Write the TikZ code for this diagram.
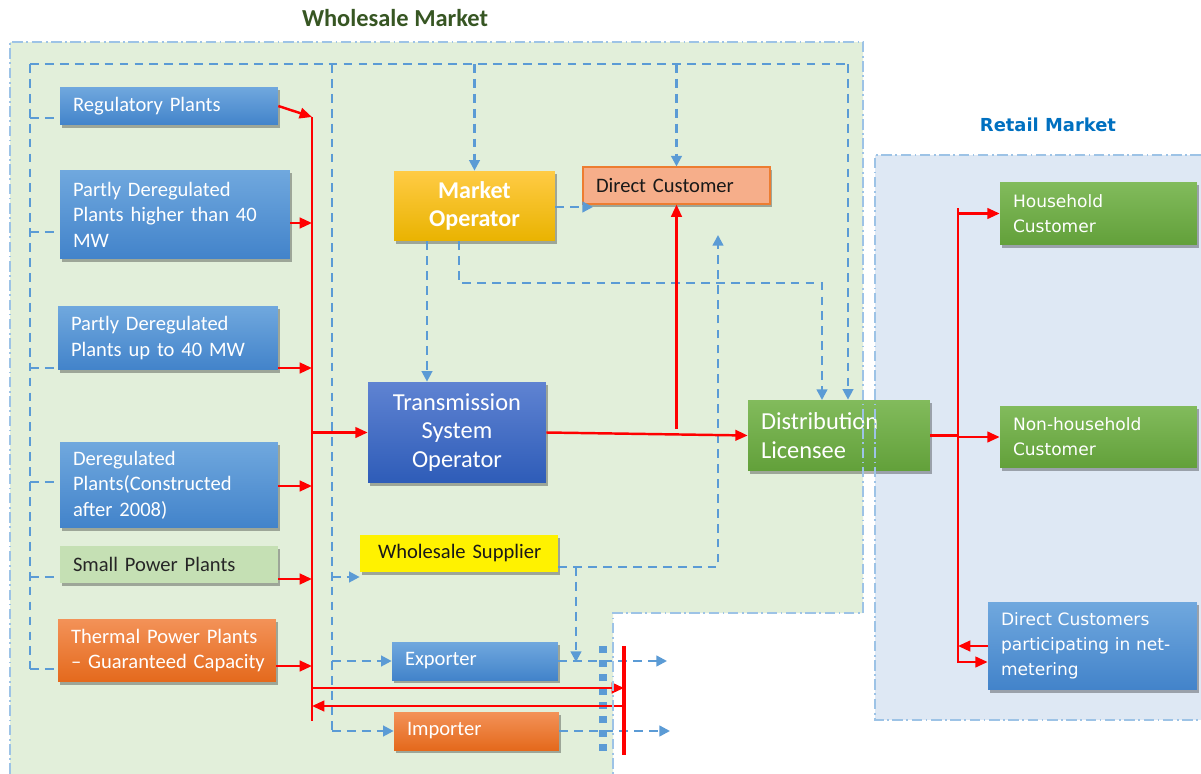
\documentclass[tikz,border=0pt]{standalone}
\usepackage{fontspec}
\setmainfont{Carlito}
\newfontfamily\verd{DejaVu Sans}
\usetikzlibrary{arrows.meta,shadows,calc}
\definecolor{wsfill}{HTML}{E2EFDA}
\definecolor{rtfill}{HTML}{DEE8F4}
\definecolor{bdcol}{HTML}{9DC3E6}
\definecolor{dblue}{HTML}{5B9BD5}
\definecolor{wsgreen}{HTML}{375623}
\definecolor{rtblue}{HTML}{0070C0}
\definecolor{bluT}{HTML}{70A8DE}
\definecolor{bluB}{HTML}{4283CA}
\definecolor{tsoT}{HTML}{5F83D2}
\definecolor{tsoB}{HTML}{2E5CB8}
\definecolor{grnT}{HTML}{82BB5C}
\definecolor{grnB}{HTML}{62A03A}
\definecolor{orgT}{HTML}{F39258}
\definecolor{orgB}{HTML}{E4691C}
\definecolor{moT}{HTML}{FFCB45}
\definecolor{moB}{HTML}{E9B300}
\definecolor{smallc}{HTML}{C5E0B4}
\definecolor{dcfill}{HTML}{F6AE8A}
\definecolor{dcline}{HTML}{ED7D31}
\begin{document}
\begin{tikzpicture}[x=0.02cm,y=-0.02cm,
  base/.style={inner xsep=0.26cm, inner ysep=0pt, align=left, text=white,
    font=\fontsize{11.7}{14.5}\selectfont,
    drop shadow={shadow xshift=1.2pt, shadow yshift=-1.5pt, opacity=0.3, fill=black}},
  blueb/.style={base, top color=bluT, bottom color=bluB},
  orgb/.style={base, top color=orgT, bottom color=orgB},
  grnb/.style={base, top color=grnT, bottom color=grnB},
  retb/.style={grnb, font=\verd\fontsize{9.7}{14.2}\selectfont},
  ra/.style={draw=red, line width=1.4pt, -{Triangle[length=7pt,width=6pt]}},
  rl/.style={draw=red, line width=1.4pt},
  ba/.style={draw=dblue, line width=1.3pt, dash pattern=on 5pt off 3.5pt, -{Triangle[length=6pt,width=6pt]}},
  bl/.style={draw=dblue, line width=1.3pt, dash pattern=on 5pt off 3.5pt},
  bd/.style={draw=bdcol, line width=0.6pt, dash pattern=on 6pt off 2pt on 1pt off 2pt}
]
\useasboundingbox (0,0) rectangle (1201,774);
\fill[white] (0,0) rectangle (1201,774);
% regions
\fill[wsfill] (10,42) -- (863,42) -- (863,613) -- (613,613) -- (613,774) -- (10,774) -- cycle;
\fill[rtfill] (875,155) rectangle (1201,720);
\node[font=\bfseries\fontsize{13.9}{16}\selectfont, text=wsgreen] (wst) at (395,18) {Wholesale Market};
\node[font=\verd\bfseries\fontsize{10.2}{12}\selectfont, text=rtblue] (rtt) at (1048,125) {Retail Market};

% coordinates
\coordinate (tl) at (30,64);
\coordinate (tr) at (848,64);
\coordinate (busTop) at (312,117);
\coordinate (busBot) at (312,721);
\coordinate (bus) at (312,0);
\coordinate (rbus) at (958,0);
\coordinate (bar) at (624,0);
\coordinate (dv) at (332,0);
\foreach \v in {118,223,232,368,482,486,577,579,646,662,666,669,688,706,733,207,567,283,429,64,208,663,755,235,400}
  {\coordinate (y\v) at (0,\v);}

% nodes
\node[blueb, minimum height=0.76cm, text width=3.84cm] (reg) at (169,106) {Regulatory Plants};
\node[blueb, minimum height=1.78cm, text width=4.08cm] (p40h) at (175,214.5) {Partly Deregulated\\Plants higher than 40\\MW};
\node[blueb, minimum height=1.28cm, text width=3.88cm] (p40l) at (168,338) {Partly Deregulated\\Plants up to 40 MW};
\node[blueb, minimum height=1.72cm, text width=3.84cm] (dereg) at (169,485) {Deregulated\\\mbox{Plants(Constructed}\\after 2008)};
\node[base, fill=smallc, text=black!85, minimum height=0.74cm, text width=3.84cm] (small) at (169,564.5) {\mbox{Small Power Plants}};
\node[orgb, minimum height=1.26cm, text width=3.84cm] (therm) at (167,650.5) {\mbox{Thermal Power Plants}\\\mbox{– Guaranteed Capacity}};
\node[base, top color=moT, bottom color=moB, minimum height=1.4cm, text width=2.7cm, align=center,
      font=\bfseries\fontsize{13.7}{16}\selectfont] (mo) at (474.5,206) {Market\\Operator};
\node[base, fill=dcfill, draw=dcline, line width=0.6pt, text=black!90, drop shadow={opacity=0}, minimum height=0.74cm, text width=3.22cm] (dc) at (676.5,185.5) {\mbox{Direct Customer}};
\node[base, top color=tsoT, bottom color=tsoB, minimum height=2.02cm, text width=3.04cm, align=center,
      font=\fontsize{13.9}{16.4}\selectfont] (tso) at (457,432.5) {Transmission\\System\\Operator};
\node[grnb, minimum height=1.42cm, text width=3.12cm, font=\fontsize{13.9}{16.4}\selectfont] (dl) at (839,435.5) {Distribution\\Licensee};
\node[base, fill=yellow, text=black!90, minimum height=0.74cm, inner xsep=0.36cm, text width=3.24cm] (ws) at (459,553.5) {\mbox{Wholesale Supplier}};
\node[blueb, minimum height=0.76cm, text width=2.8cm] (exp) at (475,661) {Exporter};
\node[orgb, minimum height=0.76cm, text width=2.78cm] (imp) at (476.5,731) {Importer};
\node[retb, minimum height=1.26cm, text width=3.42cm] (hh) at (1098.5,213.5) {Household\\Customer};
\node[retb, minimum height=1.24cm, text width=3.42cm] (nh) at (1098.5,437) {Non-household\\Customer};
\node[blueb, font=\verd\fontsize{9.7}{14.2}\selectfont, minimum height=1.76cm, text width=3.66cm] (net) at (1092.5,646) {\mbox{Direct Customers}\\\mbox{participating in net-}\\metering};

% blue dashed control lines
\draw[bl] (tl) -- (tr);
\draw[bl] (tl) -- (tl |- y669);
\draw[bl] (tl |- y118) -- (reg.west |- y118);
\draw[bl] (tl |- y232) -- (p40h.west |- y232);
\draw[bl] (tl |- y368) -- (p40l.west |- y368);
\draw[bl] (tl |- y482) -- (dereg.west |- y482);
\draw[bl] (tl |- y577) -- (small.west |- y577);
\draw[bl] (tl |- y669) -- (therm.west |- y669);
\draw[bl] (dv |- y64) -- (dv |- y733);
\draw[ba] (dv |- y577) -- (ws.west |- y577);
\draw[ba] (dv |- exp.west) -- (exp.west);
\draw[ba] (dv |- imp.west) -- (imp.west);
\draw[ba] (mo.north |- y64) -- (mo.north);
\draw[ba] (dc.north |- y64) -- (dc.north);
\draw[ba] (tr) -- (tr |- dl.north);
\coordinate (moDc) at (593,207);
\draw[ba] (mo.east |- y207) -- (moDc);
\coordinate (moL) at (427,0);
\draw[ba] (moL |- mo.south) -- (moL |- tso.north);
\coordinate (moR) at (459,0);
\coordinate (dlL) at (822,0);
\draw[ba] (moR |- mo.south) -- (moR |- y283) -- (dlL |- y283) -- (dlL |- y400);
\coordinate (wsU) at (718,0);
\coordinate (wsD) at (576,0);
\draw[ba] (ws.east |- y567) -- (wsU |- y567) -- (wsU |- y235);
\draw[ba] (wsD |- y567) -- (wsD |- y662);
\coordinate (expOut) at (667,661);
\coordinate (impOut) at (670,731);
\draw[ba] (exp.east) -- (expOut);
\draw[ba] (imp.east) -- (impOut);
\coordinate (dotT) at (603,646);
\coordinate (dotB) at (603,755);
\draw[draw=dblue, line width=4pt, dash pattern=on 4pt off 4pt] (dotT) -- (dotB);

% red power flows
\draw[rl] (busTop) -- (busBot);
\draw[ra] (reg.east) -- (busTop);
\draw[ra] (p40h.east |- y223) -- (bus |- y223);
\draw[ra] (p40l.east |- y368) -- (bus |- y368);
\draw[ra] (dereg.east |- y486) -- (bus |- y486);
\draw[ra] (small.east |- y579) -- (bus |- y579);
\draw[ra] (therm.east |- y666) -- (bus |- y666);
\draw[ra] (bus |- tso.west) -- (tso.west);
\draw[ra] (tso.east) -- (dl.west);
\draw[ra] (dc.south |- y429) -- (dc.south);
\draw[rl, line width=1.9pt] (bar |- y646) -- (bar |- y755);
\draw[ra] (bus |- y688) -- (bar |- y688);
\draw[ra] (bar |- y706) -- (bus |- y706);
\draw[rl] (dl.east) -- (rbus |- dl.east);
\draw[rl] (rbus |- y208) -- (rbus |- y663);
\draw[ra] (rbus |- hh.west) -- (hh.west);
\draw[ra] (rbus |- nh.west) -- (nh.west);
\draw[ra] (net.west) -- (rbus |- net.west);
\draw[ra] (rbus |- y662) -- (net.west |- y662);

% region borders
\draw[bd] (10,774) -- (10,42) -- (863,42) -- (863,613) -- (613,613) -- (613,774);
\draw[bd] (1201,155) -- (875,155) -- (875,720) -- (1201,720);
\end{tikzpicture}
\end{document}
